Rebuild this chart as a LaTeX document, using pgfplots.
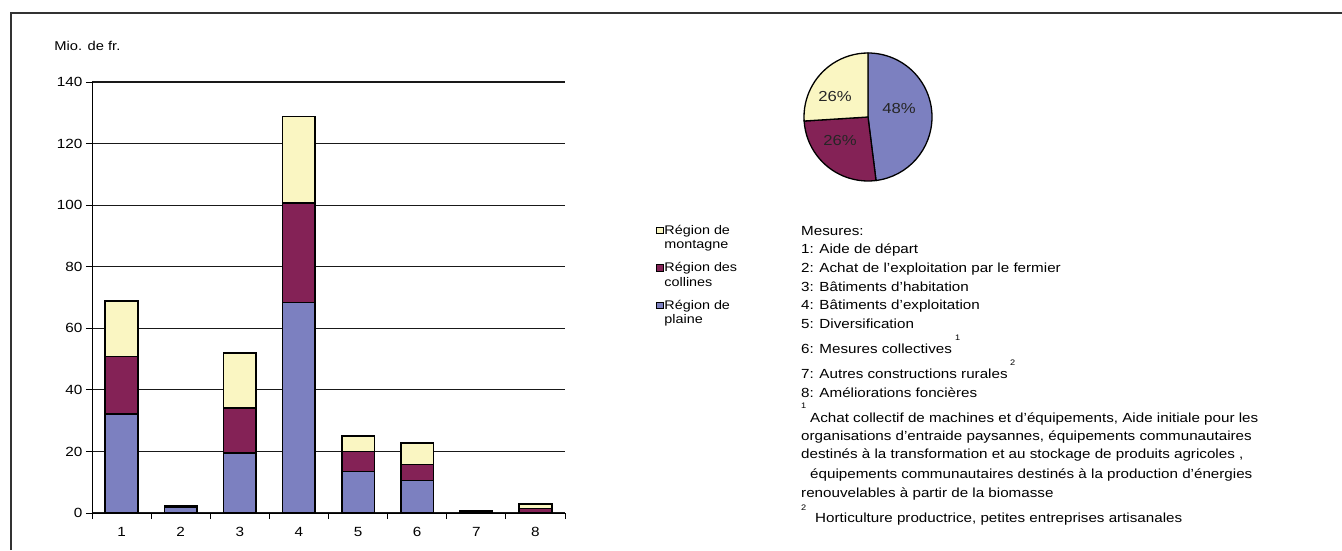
\documentclass[border=0pt]{standalone}
\usepackage{fontspec}
\setmainfont{Liberation Sans}[FakeStretch=1.15]
\usepackage{pgfplots}
\pgfplotsset{compat=1.18}
\definecolor{plaine}{RGB}{124,128,192}
\definecolor{collines}{RGB}{132,34,86}
\definecolor{montagne}{RGB}{250,246,194}
\pgfplotsset{sq legend/.style={legend image code/.code={\path[draw=none,fill=none] (0pt,-10.5pt) -- (0pt,10.5pt);\draw[##1,line width=0.8pt] (0pt,4pt) rectangle (6.5pt,10.5pt);}}}
\begin{document}
\begin{tikzpicture}
\useasboundingbox (0pt,0pt) rectangle (1342pt,550pt);
\draw[line width=1.2pt, black!80] (11pt,0pt) -- (11pt,537pt) -- (1342pt,537pt);
\begin{axis}[at={(92pt,37pt)}, anchor=south west, scale only axis,
  width=473pt, height=431pt,
  ybar stacked, bar width=32.6pt, sq legend,
  xmin=0.5, xmax=8.5, ymin=0, ymax=140,
  ytick={0,20,...,140}, xtick={1,...,8},
  minor xtick={0.5,1.5,...,8.5},
  axis x line*=bottom, axis y line*=left, axis line style={-, black, line width=0.8pt},
  ymajorgrids, grid style={black!90, line width=1.2pt},
  tick align=outside, major tick length=6pt, minor tick length=6pt,
  major x tick style={draw=none}, tick style={black, line width=0.8pt},
  ticklabel style={font=\fontsize{13.3}{15}\selectfont},
  xticklabel style={yshift=-5pt},
  /pgf/number format/assume math mode=true,
  ylabel={Mio. de fr.},
  y label style={at={(axis description cs:-0.087,1.072)}, anchor=base west, rotate=-90, font=\fontsize{12.8}{15}\selectfont},
  reverse legend,
  legend style={at={(1.186,0.676)}, anchor=north west, draw=none, fill=none,
    font=\fontsize{12.5}{14.5}\selectfont, row sep=10.5pt,
    nodes={align=left, inner sep=1pt}},
  legend cell align=left,
]
\addplot[fill=plaine, draw=black, line width=1.6pt] coordinates {(1,32.1) (2,2.0) (3,19.5) (4,68.4) (5,13.5) (6,10.6) (7,0.3) (8,0.2)};
\addplot[fill=collines, draw=black, line width=1.6pt] coordinates {(1,18.7) (2,0.2) (3,14.6) (4,32.3) (5,6.5) (6,5.2) (7,0.2) (8,1.3)};
\addplot[fill=montagne, draw=black, line width=1.6pt] coordinates {(1,18.1) (2,0.2) (3,17.8) (4,28.1) (5,5.0) (6,7.0) (7,0.2) (8,1.5)};
\legend{{Région de\\plaine},{Région des\\collines},{Région de\\montagne}}
\end{axis}
% pie chart
\begin{scope}[shift={(868pt,433pt)}]
\def\r{64pt}
\filldraw[fill=plaine, draw=black, line width=1.3pt] (0pt,0pt) -- (90:\r) arc[start angle=90, end angle=-82.8, radius=\r] -- cycle;
\filldraw[fill=collines, draw=black, line width=1.3pt] (0pt,0pt) -- (-82.8:\r) arc[start angle=-82.8, end angle=-176.4, radius=\r] -- cycle;
\filldraw[fill=montagne, draw=black, line width=1.3pt] (0pt,0pt) -- (-176.4:\r) arc[start angle=-176.4, end angle=-270, radius=\r] -- cycle;
\node[font=\fontsize{14.5}{16}\selectfont, text=black!85] at (31pt,8pt) {48\%};
\node[font=\fontsize{14.5}{16}\selectfont, text=black!85] at (-33pt,20pt) {26\%};
\node[font=\fontsize{14.5}{16}\selectfont, text=black!85] at (-28pt,-24pt) {26\%};
\end{scope}
% text block
\begin{scope}[every node/.style={anchor=base west, inner sep=0pt, font=\fontsize{13.2}{16}\selectfont}]
\node at (801pt,315pt) {Mesures:};
\node at (801pt,297pt) {1: Aide de départ};
\node at (801pt,278pt) {2: Achat de l’exploitation par le fermier};
\node at (801pt,259pt) {3: Bâtiments d'habitation};
\node at (801pt,241pt) {4: Bâtiments d’exploitation};
\node at (801pt,222pt) {5: Diversification};
\node at (801pt,197pt) {6: Mesures collectives};
\node at (801pt,172pt) {7: Autres constructions rurales};
\node at (801pt,153pt) {8: Améliorations foncières};
\node at (810pt,128pt) {Achat collectif de machines et d’équipements, Aide initiale pour les};
\node at (801pt,110pt) {organisations d’entraide paysannes, équipements communautaires};
\node at (801pt,92pt) {destinés à la transformation et au stockage de produits agricoles ,};
\node at (810pt,72pt) {équipements communautaires destinés à la production d’énergies};
\node at (801pt,53pt) {renouvelables à partir de la biomasse};
\node at (815pt,28pt) {Horticulture productrice, petites entreprises artisanales};
\node[font=\fontsize{8}{9}\selectfont] at (955pt,210pt) {1};
\node[font=\fontsize{8}{9}\selectfont] at (1010pt,185pt) {2};
\node[font=\fontsize{8}{9}\selectfont] at (801pt,142pt) {1};
\node[font=\fontsize{8}{9}\selectfont] at (801pt,40pt) {2};
\end{scope}
\end{tikzpicture}
\end{document}
